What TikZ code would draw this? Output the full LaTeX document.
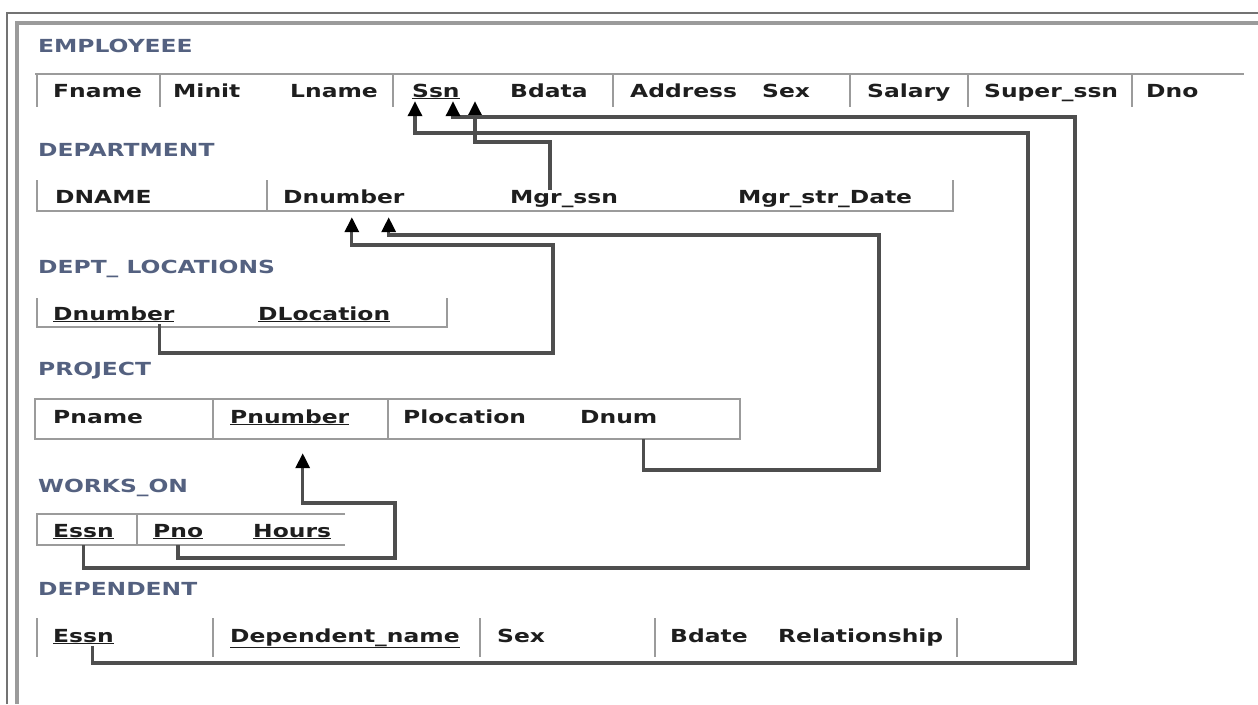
\documentclass[tikz,border=0pt]{standalone}
\usepackage{fontspec}
\usetikzlibrary{arrows.meta}
\newfontfamily\dvsans[FakeStretch=1.3]{DejaVu Sans}
\definecolor{labelc}{RGB}{84,97,128}
\definecolor{txtc}{RGB}{30,30,30}
\definecolor{rowc}{RGB}{155,155,155}
\definecolor{fkc}{RGB}{78,78,78}
\definecolor{framec}{RGB}{115,115,115}
\tikzset{
  tname/.style={anchor=base west, inner sep=0pt, text=labelc, font=\dvsans\bfseries\fontsize{18}{20}\selectfont},
  attr/.style={anchor=base west, inner sep=0pt, text height=13pt, text depth=4pt, text=txtc, font=\dvsans\bfseries\fontsize{18}{20}\selectfont},
  row/.style={draw=rowc, line width=2.8pt},
  fk/.style={draw=fkc, line width=3.3pt, -{Triangle[width=14pt,length=15pt,color=black]}},
}
\begin{document}
\begin{tikzpicture}[x=1pt,y=-1pt]
        \useasboundingbox (0,0) rectangle (1258,704);
        \draw[framec, line width=1.4pt] (7,704) -- (7,13) -- (1258,13);
        \draw[rowc, line width=3.5pt] (17,704) -- (17,23) -- (1258,23);

        \node[tname](emp) at (38,52) {EMPLOYEEE};
        \draw[row] (35,74) -- (1244,74);
        \foreach \x in {37,160,393,613,850,968,1132}
            \draw[row] (\x,74) -- (\x,107);
        \node[attr](fname) at (53,97) {Fname};
        \node[attr](minit) at (173,97) {Minit};
        \node[attr](lname) at (290,97) {Lname};
        \node[attr](ssn) at (412,97) {\underline{Ssn}};
        \node[attr](bdata) at (510,97) {Bdata};
        \node[attr](address) at (630,97) {Address};
        \node[attr](sexE) at (762,97) {Sex};
        \node[attr](salary) at (867,97) {Salary};
        \node[attr](superssn) at (984,97) {Super\_ssn};
        \node[attr](dno) at (1146,97) {Dno};

        \node[tname](dept) at (38,156) {DEPARTMENT};
        \draw[row] (37,180) -- (37,211) -- (953,211) -- (953,180);
        \draw[row] (267,180) -- (267,211);
        \node[attr](dname) at (55,203) {DNAME};
        \node[attr](dnumD) at (283,203) {Dnumber};
        \node[attr](mgrssn) at (510,203) {Mgr\_ssn};
        \node[attr](mgrdate) at (738,203) {Mgr\_str\_Date};

        \node[tname](deptloc) at (38,273) {DEPT\_ LOCATIONS};
        \draw[row] (37,298) -- (37,327) -- (447,327) -- (447,298);
        \node[attr](dnumL) at (53,320) {\underline{Dnumber}};
        \node[attr](dloc) at (258,320) {\underline{DLocation}};

        \node[tname](proj) at (38,375) {PROJECT};
        \draw[row] (35,399) rectangle (740,439);
        \draw[row] (213,399) -- (213,439);
        \draw[row] (388,399) -- (388,439);
        \node[attr](pname) at (53,423) {Pname};
        \node[attr](pnum) at (230,423) {\underline{Pnumber}};
        \node[attr](ploc) at (403,423) {Plocation};
        \node[attr](dnum) at (580,423) {Dnum};

        \node[tname](works) at (38,492) {WORKS\_ON};
        \draw[row] (345,514) -- (37,514) -- (37,545) -- (345,545);
        \draw[row] (137,514) -- (137,545);
        \node[attr](essnW) at (53,537) {\underline{Essn}};
        \node[attr](pno) at (153,537) {\underline{Pno}};
        \node[attr](hours) at (253,537) {\underline{Hours}};

        \node[tname](depnt) at (38,595) {DEPENDENT};
        \foreach \x in {37,213,480,655,957}
            \draw[row] (\x,618) -- (\x,657);
        \node[attr](essnD) at (53,642) {\underline{Essn}};
        \node[attr](depname) at (230,642) {\underline{Dependent\_name}};
        \node[attr](sexD) at (497,642) {Sex};
        \node[attr](bdate) at (670,642) {Bdate};
        \node[attr](relship) at (778,642) {Relationship};

        \draw[fk] ([xshift=-14pt]mgrssn.north) |- (475,142) -- ([xshift=63pt]ssn.south west);
        \draw[fk] ([yshift=-4pt]essnW.south) |- (1028,568) -- (1028,133) -| ([xshift=3pt]ssn.south west);
        \draw[fk] ([xshift=9pt]essnD.south) |- (1075,663) -- (1075,117) -| ([xshift=41pt]ssn.south west);
        \draw[fk] ([xshift=-15pt]dnumL.south east) |- (553,353) -- (553,245) -| ([xshift=8pt,yshift=-10pt]dnumD.south);
        \draw[fk] ([xshift=-14pt,yshift=-12pt]dnum.south east) |- (879,470) -- (879,235) -| ([xshift=-16pt,yshift=-10pt]dnumD.south east);
        \draw[fk] ([yshift=-4pt]pno.south) |- (395,558) -- (395,503) -| ([xshift=13pt,yshift=-26pt]pnum.south);
    \end{tikzpicture}
\end{document}
